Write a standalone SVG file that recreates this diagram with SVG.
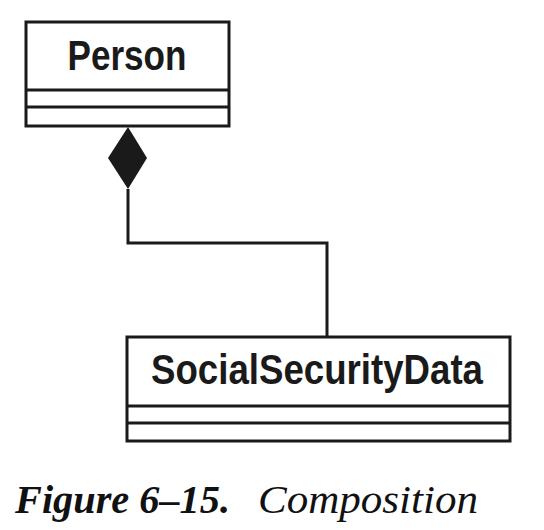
<svg xmlns="http://www.w3.org/2000/svg" width="544" height="530" viewBox="0 0 544 530">
<style>
.box{fill:#fff;stroke:#1a1a1a;stroke-width:3}
.div{stroke:#1a1a1a;stroke-width:3}
.name{font-family:"Liberation Sans",Arial,sans-serif;font-weight:bold;font-size:43px;fill:#1a1a1a;text-anchor:middle}
.conn{fill:none;stroke:#1a1a1a;stroke-width:3}
.cap{font-family:"Liberation Serif","Times New Roman",serif;font-style:italic;font-size:40px;fill:#111}
</style>
<rect width="544" height="530" fill="#fff"/>
<g id="connectors">
<polyline class="conn" points="128,189 128,243 327,243 327,337"/>
<polygon points="128,127 147,158 128,189 108,158" fill="#1a1a1a"/>
</g>
<g id="person">
<rect class="box" x="26" y="22" width="203" height="104"/>
<line class="div" x1="26" y1="90" x2="229" y2="90"/>
<line class="div" x1="26" y1="107" x2="229" y2="107"/>
<text class="name" x="127" y="70" textLength="119" lengthAdjust="spacingAndGlyphs">Person</text>
</g>
<g id="ssd">
<rect class="box" x="127" y="337" width="383" height="104"/>
<line class="div" x1="127" y1="406" x2="510" y2="406"/>
<line class="div" x1="127" y1="423" x2="510" y2="423"/>
<text class="name" x="317" y="384" textLength="332" lengthAdjust="spacingAndGlyphs">SocialSecurityData</text>
</g>
<text class="cap" x="15" y="513" font-weight="bold" textLength="215" lengthAdjust="spacingAndGlyphs">Figure 6–15.</text>
<text class="cap" x="258" y="513" textLength="220" lengthAdjust="spacingAndGlyphs">Composition</text>
</svg>
